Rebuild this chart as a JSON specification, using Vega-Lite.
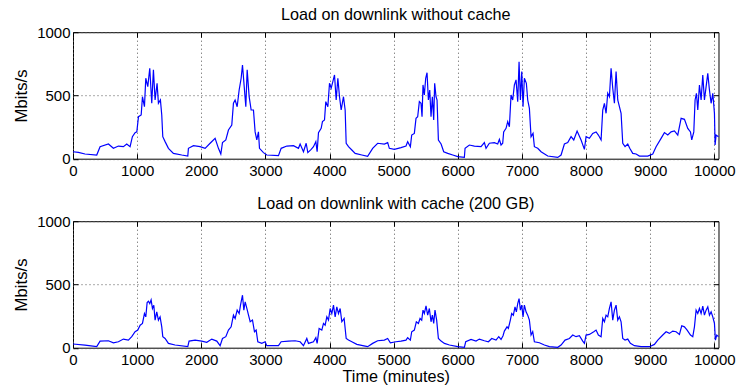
{
  "$schema": "https://vega.github.io/schema/vega-lite/v6.json",
  "autosize": {"type": "pad"},
  "padding": {"left": 13, "top": 6.2, "right": 0, "bottom": 0},
  "background": "white",
  "bounds": "flush",
  "spacing": 62,
  "datasets": {
    "nocache": [
      {"t":0,"v":55},{"t":84,"v":50},{"t":187,"v":37},{"t":370,"v":29},{"t":422,"v":95},{"t":552,"v":116},{"t":630,"v":82},{"t":708,"v":100},{"t":786,"v":95},{"t":838,"v":116},{"t":890,"v":95},{"t":926,"v":174},{"t":968,"v":206},{"t":995,"v":212},{"t":1021,"v":332},{"t":1063,"v":346},{"t":1083,"v":490},{"t":1114,"v":411},{"t":1135,"v":636},{"t":1166,"v":570},{"t":1197,"v":715},{"t":1228,"v":438},{"t":1254,"v":702},{"t":1280,"v":464},{"t":1311,"v":596},{"t":1332,"v":438},{"t":1363,"v":464},{"t":1384,"v":346},{"t":1400,"v":174},{"t":1436,"v":135},{"t":1488,"v":82},{"t":1566,"v":42},{"t":1696,"v":29},{"t":1790,"v":21},{"t":1800,"v":82},{"t":1878,"v":103},{"t":1982,"v":95},{"t":2060,"v":82},{"t":2138,"v":122},{"t":2216,"v":161},{"t":2268,"v":82},{"t":2305,"v":37},{"t":2331,"v":127},{"t":2383,"v":148},{"t":2424,"v":227},{"t":2476,"v":266},{"t":2502,"v":438},{"t":2528,"v":464},{"t":2560,"v":411},{"t":2591,"v":543},{"t":2622,"v":636},{"t":2643,"v":741},{"t":2674,"v":543},{"t":2695,"v":411},{"t":2716,"v":702},{"t":2747,"v":490},{"t":2778,"v":385},{"t":2814,"v":385},{"t":2840,"v":212},{"t":2866,"v":148},{"t":2892,"v":212},{"t":2908,"v":82},{"t":2970,"v":48},{"t":3022,"v":29},{"t":3204,"v":24},{"t":3246,"v":82},{"t":3334,"v":100},{"t":3438,"v":103},{"t":3516,"v":82},{"t":3542,"v":116},{"t":3594,"v":55},{"t":3636,"v":122},{"t":3662,"v":48},{"t":3714,"v":74},{"t":3750,"v":95},{"t":3787,"v":135},{"t":3807,"v":55},{"t":3828,"v":206},{"t":3870,"v":240},{"t":3890,"v":293},{"t":3922,"v":306},{"t":3942,"v":451},{"t":3974,"v":411},{"t":4000,"v":596},{"t":4026,"v":557},{"t":4052,"v":610},{"t":4078,"v":662},{"t":4104,"v":464},{"t":4130,"v":636},{"t":4156,"v":490},{"t":4182,"v":385},{"t":4218,"v":490},{"t":4244,"v":385},{"t":4260,"v":122},{"t":4296,"v":95},{"t":4348,"v":69},{"t":4400,"v":42},{"t":4504,"v":29},{"t":4595,"v":18},{"t":4673,"v":82},{"t":4751,"v":122},{"t":4855,"v":116},{"t":4907,"v":127},{"t":4933,"v":82},{"t":5011,"v":74},{"t":5115,"v":87},{"t":5193,"v":100},{"t":5219,"v":135},{"t":5261,"v":95},{"t":5282,"v":187},{"t":5323,"v":200},{"t":5349,"v":319},{"t":5375,"v":332},{"t":5401,"v":451},{"t":5427,"v":438},{"t":5443,"v":332},{"t":5458,"v":583},{"t":5479,"v":504},{"t":5500,"v":636},{"t":5521,"v":680},{"t":5542,"v":464},{"t":5563,"v":543},{"t":5583,"v":332},{"t":5604,"v":490},{"t":5625,"v":306},{"t":5640,"v":596},{"t":5661,"v":490},{"t":5677,"v":464},{"t":5698,"v":148},{"t":5740,"v":116},{"t":5781,"v":55},{"t":5844,"v":42},{"t":5922,"v":29},{"t":6000,"v":16},{"t":6103,"v":10},{"t":6114,"v":82},{"t":6181,"v":108},{"t":6259,"v":100},{"t":6363,"v":95},{"t":6415,"v":127},{"t":6441,"v":82},{"t":6493,"v":122},{"t":6571,"v":127},{"t":6623,"v":116},{"t":6649,"v":153},{"t":6675,"v":108},{"t":6701,"v":122},{"t":6716,"v":212},{"t":6753,"v":240},{"t":6779,"v":293},{"t":6805,"v":253},{"t":6831,"v":504},{"t":6857,"v":464},{"t":6883,"v":583},{"t":6909,"v":623},{"t":6935,"v":451},{"t":6956,"v":767},{"t":6977,"v":464},{"t":6998,"v":689},{"t":7018,"v":411},{"t":7039,"v":636},{"t":7070,"v":596},{"t":7091,"v":464},{"t":7117,"v":398},{"t":7143,"v":174},{"t":7174,"v":200},{"t":7195,"v":95},{"t":7247,"v":82},{"t":7299,"v":55},{"t":7403,"v":21},{"t":7559,"v":10},{"t":7611,"v":29},{"t":7663,"v":116},{"t":7715,"v":127},{"t":7767,"v":174},{"t":7809,"v":148},{"t":7861,"v":219},{"t":7923,"v":148},{"t":7975,"v":74},{"t":8001,"v":174},{"t":8053,"v":161},{"t":8105,"v":200},{"t":8157,"v":212},{"t":8193,"v":187},{"t":8235,"v":148},{"t":8261,"v":385},{"t":8287,"v":438},{"t":8313,"v":359},{"t":8339,"v":517},{"t":8365,"v":490},{"t":8391,"v":715},{"t":8417,"v":557},{"t":8443,"v":438},{"t":8469,"v":689},{"t":8495,"v":464},{"t":8521,"v":411},{"t":8547,"v":359},{"t":8573,"v":122},{"t":8609,"v":95},{"t":8651,"v":116},{"t":8682,"v":82},{"t":8729,"v":42},{"t":8781,"v":37},{"t":8833,"v":21},{"t":8963,"v":21},{"t":9041,"v":37},{"t":9093,"v":95},{"t":9171,"v":161},{"t":9223,"v":206},{"t":9275,"v":187},{"t":9327,"v":212},{"t":9379,"v":219},{"t":9431,"v":187},{"t":9483,"v":319},{"t":9535,"v":311},{"t":9587,"v":240},{"t":9629,"v":212},{"t":9649,"v":148},{"t":9681,"v":212},{"t":9701,"v":464},{"t":9722,"v":517},{"t":9743,"v":385},{"t":9769,"v":583},{"t":9795,"v":464},{"t":9821,"v":662},{"t":9847,"v":464},{"t":9873,"v":570},{"t":9899,"v":675},{"t":9925,"v":543},{"t":9951,"v":438},{"t":9977,"v":517},{"t":10003,"v":359},{"t":10013,"v":108},{"t":10029,"v":187},{"t":10066,"v":174}
    ],
    "cache": [
      {"t":0,"v":29},{"t":187,"v":21},{"t":370,"v":8},{"t":422,"v":52},{"t":552,"v":55},{"t":630,"v":39},{"t":708,"v":47},{"t":786,"v":68},{"t":864,"v":60},{"t":916,"v":87},{"t":968,"v":126},{"t":1010,"v":139},{"t":1047,"v":178},{"t":1083,"v":192},{"t":1114,"v":270},{"t":1135,"v":244},{"t":1156,"v":357},{"t":1176,"v":367},{"t":1197,"v":349},{"t":1218,"v":378},{"t":1239,"v":310},{"t":1260,"v":336},{"t":1280,"v":218},{"t":1306,"v":283},{"t":1332,"v":218},{"t":1358,"v":244},{"t":1384,"v":165},{"t":1400,"v":87},{"t":1436,"v":73},{"t":1488,"v":34},{"t":1592,"v":21},{"t":1790,"v":8},{"t":1810,"v":52},{"t":1904,"v":60},{"t":2008,"v":52},{"t":2086,"v":42},{"t":2164,"v":68},{"t":2242,"v":52},{"t":2294,"v":16},{"t":2331,"v":73},{"t":2383,"v":87},{"t":2424,"v":139},{"t":2466,"v":165},{"t":2502,"v":257},{"t":2528,"v":231},{"t":2560,"v":297},{"t":2591,"v":270},{"t":2612,"v":336},{"t":2643,"v":415},{"t":2664,"v":297},{"t":2685,"v":362},{"t":2711,"v":310},{"t":2737,"v":257},{"t":2763,"v":205},{"t":2799,"v":218},{"t":2830,"v":126},{"t":2856,"v":139},{"t":2882,"v":47},{"t":2944,"v":34},{"t":2996,"v":47},{"t":3022,"v":16},{"t":3204,"v":16},{"t":3246,"v":47},{"t":3360,"v":52},{"t":3464,"v":55},{"t":3542,"v":47},{"t":3594,"v":16},{"t":3646,"v":73},{"t":3672,"v":34},{"t":3750,"v":47},{"t":3787,"v":79},{"t":3807,"v":34},{"t":3838,"v":152},{"t":3880,"v":139},{"t":3906,"v":192},{"t":3932,"v":178},{"t":3958,"v":244},{"t":3984,"v":218},{"t":4010,"v":310},{"t":4036,"v":270},{"t":4062,"v":336},{"t":4088,"v":244},{"t":4114,"v":323},{"t":4140,"v":270},{"t":4166,"v":310},{"t":4192,"v":205},{"t":4228,"v":231},{"t":4260,"v":73},{"t":4296,"v":60},{"t":4348,"v":47},{"t":4426,"v":26},{"t":4556,"v":13},{"t":4595,"v":8},{"t":4673,"v":34},{"t":4751,"v":55},{"t":4855,"v":60},{"t":4907,"v":73},{"t":4949,"v":39},{"t":5037,"v":47},{"t":5115,"v":52},{"t":5193,"v":60},{"t":5219,"v":79},{"t":5261,"v":60},{"t":5282,"v":126},{"t":5323,"v":139},{"t":5354,"v":205},{"t":5386,"v":192},{"t":5412,"v":231},{"t":5438,"v":218},{"t":5458,"v":297},{"t":5479,"v":270},{"t":5505,"v":331},{"t":5531,"v":257},{"t":5557,"v":310},{"t":5583,"v":205},{"t":5604,"v":257},{"t":5625,"v":192},{"t":5645,"v":297},{"t":5671,"v":218},{"t":5698,"v":73},{"t":5740,"v":52},{"t":5792,"v":34},{"t":5870,"v":21},{"t":6000,"v":8},{"t":6103,"v":3},{"t":6124,"v":47},{"t":6207,"v":65},{"t":6285,"v":52},{"t":6337,"v":68},{"t":6415,"v":55},{"t":6478,"v":47},{"t":6530,"v":73},{"t":6597,"v":60},{"t":6639,"v":87},{"t":6675,"v":65},{"t":6706,"v":95},{"t":6727,"v":131},{"t":6768,"v":165},{"t":6789,"v":152},{"t":6820,"v":218},{"t":6841,"v":270},{"t":6867,"v":257},{"t":6893,"v":323},{"t":6914,"v":283},{"t":6935,"v":349},{"t":6956,"v":388},{"t":6977,"v":297},{"t":6998,"v":336},{"t":7018,"v":244},{"t":7039,"v":336},{"t":7065,"v":283},{"t":7091,"v":257},{"t":7117,"v":218},{"t":7143,"v":100},{"t":7169,"v":126},{"t":7195,"v":47},{"t":7273,"v":39},{"t":7351,"v":21},{"t":7429,"v":8},{"t":7559,"v":3},{"t":7611,"v":21},{"t":7673,"v":60},{"t":7741,"v":73},{"t":7793,"v":100},{"t":7845,"v":87},{"t":7897,"v":95},{"t":7949,"v":52},{"t":7975,"v":34},{"t":8001,"v":100},{"t":8053,"v":105},{"t":8121,"v":126},{"t":8157,"v":139},{"t":8193,"v":100},{"t":8235,"v":87},{"t":8261,"v":231},{"t":8287,"v":205},{"t":8313,"v":257},{"t":8339,"v":244},{"t":8365,"v":310},{"t":8391,"v":362},{"t":8417,"v":218},{"t":8443,"v":297},{"t":8469,"v":336},{"t":8495,"v":218},{"t":8521,"v":244},{"t":8547,"v":205},{"t":8573,"v":73},{"t":8609,"v":60},{"t":8651,"v":68},{"t":8692,"v":34},{"t":8755,"v":16},{"t":8859,"v":8},{"t":8989,"v":8},{"t":9067,"v":26},{"t":9119,"v":60},{"t":9197,"v":100},{"t":9249,"v":126},{"t":9301,"v":113},{"t":9353,"v":131},{"t":9405,"v":126},{"t":9457,"v":105},{"t":9493,"v":173},{"t":9535,"v":165},{"t":9577,"v":139},{"t":9629,"v":100},{"t":9665,"v":87},{"t":9691,"v":165},{"t":9717,"v":297},{"t":9743,"v":270},{"t":9769,"v":310},{"t":9795,"v":270},{"t":9821,"v":328},{"t":9847,"v":257},{"t":9873,"v":297},{"t":9899,"v":323},{"t":9925,"v":257},{"t":9951,"v":283},{"t":9977,"v":244},{"t":10003,"v":192},{"t":10018,"v":60},{"t":10039,"v":100},{"t":10066,"v":87}
    ]
  },
  "vconcat": [
    {
      "width": 645.5,
      "height": 126.5,
      "title": {"text": "Load on downlink without cache"},
      "data": {"name": "nocache"},
      "layer": [
        {
          "mark": {"type": "line", "color": "#0000ff", "strokeWidth": 1.2},
          "encoding": {
            "x": {"field": "t", "type": "quantitative", "scale": {"domain": [0, 10066], "nice": false, "zero": false},
                  "axis": {"orient": "bottom", "values": [0,1000,2000,3000,4000,5000,6000,7000,8000,9000,10000], "format": "d", "title": null}},
            "y": {"field": "v", "type": "quantitative", "scale": {"domain": [0, 1000], "nice": false},
                  "axis": {"orient": "left", "values": [0, 500, 1000], "format": "d", "title": "Mbits/s"}}
          }
        },
        {
          "mark": {"type": "line", "opacity": 0},
          "encoding": {
            "x": {"field": "t", "type": "quantitative",
                  "axis": {"orient": "top", "values": [0,1000,2000,3000,4000,5000,6000,7000,8000,9000,10000], "labels": false, "grid": false, "title": null}},
            "y": {"field": "v", "type": "quantitative",
                  "axis": {"orient": "right", "values": [0, 500, 1000], "labels": false, "grid": false, "title": null}}
          }
        }
      ],
      "resolve": {"axis": {"x": "independent", "y": "independent"}}
    },
    {
      "width": 645.5,
      "height": 126.5,
      "title": {"text": "Load on downlink with cache (200 GB)"},
      "data": {"name": "cache"},
      "layer": [
        {
          "mark": {"type": "line", "color": "#0000ff", "strokeWidth": 1.2},
          "encoding": {
            "x": {"field": "t", "type": "quantitative", "scale": {"domain": [0, 10066], "nice": false, "zero": false},
                  "axis": {"orient": "bottom", "values": [0,1000,2000,3000,4000,5000,6000,7000,8000,9000,10000], "format": "d", "title": "Time (minutes)", "titleFontSize": 16.2, "titleBaseline": "alphabetic", "titleY": 34}},
            "y": {"field": "v", "type": "quantitative", "scale": {"domain": [0, 1000], "nice": false},
                  "axis": {"orient": "left", "values": [0, 500, 1000], "format": "d", "title": "Mbits/s"}}
          }
        },
        {
          "mark": {"type": "line", "opacity": 0},
          "encoding": {
            "x": {"field": "t", "type": "quantitative",
                  "axis": {"orient": "top", "values": [0,1000,2000,3000,4000,5000,6000,7000,8000,9000,10000], "labels": false, "grid": false, "title": null}},
            "y": {"field": "v", "type": "quantitative",
                  "axis": {"orient": "right", "values": [0, 500, 1000], "labels": false, "grid": false, "title": null}}
          }
        }
      ],
      "resolve": {"axis": {"x": "independent", "y": "independent"}}
    }
  ],
  "config": {
    "font": "Liberation Sans",
    "view": {"stroke": "#000000", "strokeWidth": 1},
    "axis": {
      "labelFont": "Liberation Sans",
      "labelFontSize": 15,
      "labelColor": "#000000",
      "labelFlush": false,
      "labelOverlap": false,
      "titleFont": "Liberation Sans",
      "titleFontSize": 15,
      "titleFontWeight": "normal",
      "titleColor": "#000000",
      "domain": false,
      "ticks": true,
      "tickColor": "#000000",
      "tickSize": -5,
      "grid": true,
      "gridColor": "#555555",
      "gridDash": [1, 3],
      "gridOpacity": 1
    },
    "axisBottom": {"labelPadding": 10.3},
    "axisLeft": {"labelPadding": 8, "titleFontSize": 16.8, "titleX": -46.3, "titleY": 63.25, "titleBaseline": "alphabetic", "titleAlign": "center", "titleAngle": -90},
    "title": {"font": "Liberation Sans", "fontSize": 16.2, "fontWeight": "normal", "color": "#000000", "baseline": "alphabetic", "offset": 1.8, "anchor": "middle"}
  }
}
